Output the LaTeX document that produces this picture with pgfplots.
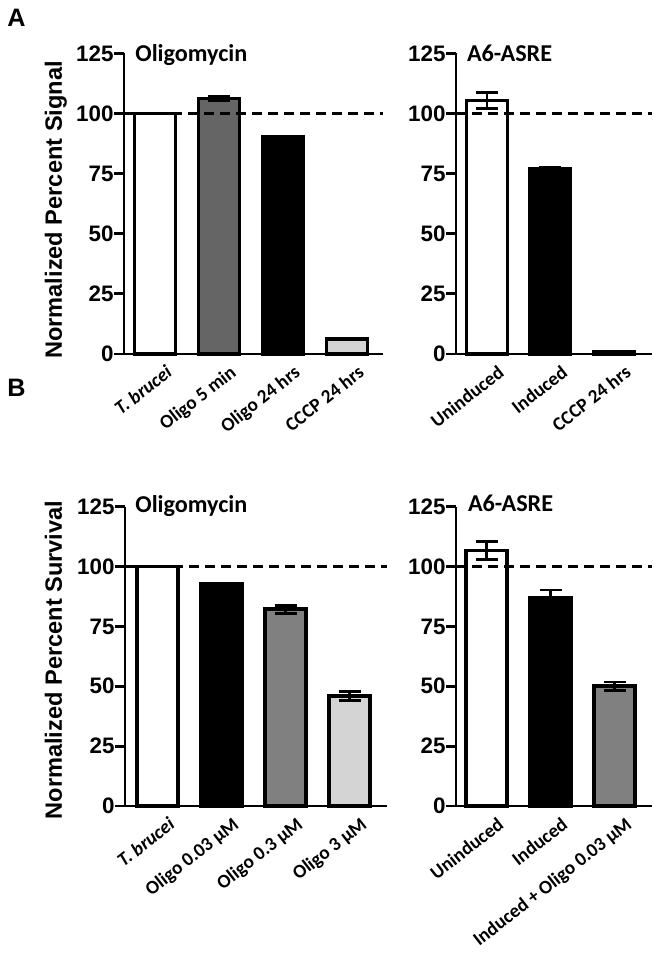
\documentclass[border=0pt]{standalone}
\usepackage{fontspec}
\setmainfont{Carlito}
\newfontfamily\arial{Liberation Sans}
\usepackage{pgfplots}
\pgfplotsset{compat=1.18}
\definecolor{gdark}{HTML}{656565}
\definecolor{gmid}{HTML}{808080}
\definecolor{glight}{HTML}{D4D4D4}
\pgfplotsset{
  panel/.style={
    scale only axis,
    anchor=south west,
    axis lines=left,
    axis line style={-, line width=1.4pt},
    ymin=0, ymax=125,
    ytick={0,25,50,75,100,125},
    major tick length=5pt,
    tick align=outside,
    ytick style={line width=1.4pt, black},
    xtick style={draw=none},
    yticklabel style={font=\arial\bfseries\fontsize{11.2}{12}\selectfont, inner sep=0pt},
    /pgf/number format/assume math mode=true,
    xticklabel style={font=\bfseries\fontsize{9.6}{10.5}\selectfont, rotate=38, anchor=north east, inner sep=1pt, xshift=5pt, yshift=-2pt},
    clip=false,
    ybar, bar width=0.64, bar shift=0pt,
    error bars/y dir=both, error bars/y explicit,
    error bars/error bar style={line width=1.4pt, black},
    error bars/error mark options={rotate=90, mark size=5.5pt, line width=1.4pt, black},
  },
  bb/.style={draw=black, line width=1.7pt, fill=#1},
  ref/.style={sharp plot, black, line width=1.5pt, dash pattern=on 5pt off 3pt},
}
\begin{document}
\begin{tikzpicture}
\path[use as bounding box] (0,0) rectangle (327pt,479pt);
% Panel A left
\begin{axis}[panel, at={(62pt,302pt)}, width=129.5pt, height=150.25pt,
  xmin=-0.484, xmax=3.5625, xtick={0,1,2,3},
  xticklabels={\textit{T. brucei}, Oligo 5 min, Oligo 24 hrs, CCCP 24 hrs}]
\addplot[bb=white] coordinates {(0,100) +- (0,0)};
\addplot[bb=gdark] coordinates {(1,106.2) +- (0,1.0)};
\addplot[bb=black] coordinates {(2,90.2) +- (0,0)};
\addplot[bb=glight] coordinates {(3,6.2) +- (0,0)};
\addplot[ref] coordinates {(-0.484,100) (3.5625,100)};
\end{axis}
% Panel A right
\begin{axis}[panel, at={(228pt,302pt)}, width=98pt, height=150.25pt,
  xmin=-0.488, xmax=2.6, xtick={0,1,2},
  xticklabels={Uninduced, Induced, CCCP 24 hrs}]
\addplot[bb=white] coordinates {(0,105.5) +- (0,3.3)};
\addplot[bb=black] coordinates {(1,77.2) +- (0,0.3)};
\addplot[bb=glight] coordinates {(2,0.8) +- (0,0)};
\addplot[ref] coordinates {(-0.488,100) (2.6,100)};
\end{axis}
% Panel B left
\begin{axis}[panel, at={(62.5pt,76pt)}, width=131pt, height=149.65pt,
  xmin=-0.51, xmax=3.586, xtick={0,1,2,3},
  xticklabels={\textit{T. brucei}, Oligo 0.03 μM, Oligo 0.3 μM, Oligo 3 μM}]
\addplot[bb=white] coordinates {(0,100) +- (0,0)};
\addplot[bb=black] coordinates {(1,92.7) +- (0,0)};
\addplot[bb=gmid] coordinates {(2,82.2) +- (0,1.7)};
\addplot[bb=glight] coordinates {(3,45.9) +- (0,2.0)};
\addplot[ref] coordinates {(-0.51,100) (3.586,100)};
\end{axis}
% Panel B right
\begin{axis}[panel, at={(228pt,76pt)}, width=98pt, height=149.65pt,
  xmin=-0.477, xmax=2.586, xtick={0,1,2},
  xticklabels={Uninduced, Induced, Induced + Oligo 0.03 μM}]
\addplot[bb=white] coordinates {(0,106.7) +- (0,3.7)};
\addplot[bb=black] coordinates {(1,86.9) +- (0,3.3)};
\addplot[bb=gmid] coordinates {(2,50.1) +- (0,1.7)};
\addplot[ref] coordinates {(-0.477,100) (2.586,100)};
\end{axis}
% titles and labels
\node[anchor=base west, font=\bfseries\fontsize{12.1}{13}\selectfont, inner sep=0pt] at (67.5pt,448.25pt) {Oligomycin};
\node[anchor=base west, font=\bfseries\fontsize{12.1}{13}\selectfont, inner sep=0pt] at (233.3pt,448.25pt) {A6-ASRE};
\node[anchor=base west, font=\bfseries\fontsize{12.1}{13}\selectfont, inner sep=0pt] at (67.5pt,222.8pt) {Oligomycin};
\node[anchor=base west, font=\bfseries\fontsize{12.1}{13}\selectfont, inner sep=0pt] at (233.8pt,223.2pt) {A6-ASRE};
\node[anchor=base west, font=\arial\bfseries\fontsize{12.6}{13}\selectfont, inner sep=0pt] at (3.5pt,465.5pt) {A};
\node[anchor=base west, font=\arial\bfseries\fontsize{12.6}{13}\selectfont, inner sep=0pt] at (3.5pt,280.5pt) {B};
\node[anchor=base, rotate=90, font=\arial\bfseries\fontsize{11.8}{13}\selectfont, inner sep=0pt] at (31pt,374pt) {Normalized Percent Signal};
\node[anchor=base, rotate=90, font=\arial\bfseries\fontsize{11.8}{13}\selectfont, inner sep=0pt] at (31pt,149pt) {Normalized Percent Survival};
\end{tikzpicture}
\end{document}
